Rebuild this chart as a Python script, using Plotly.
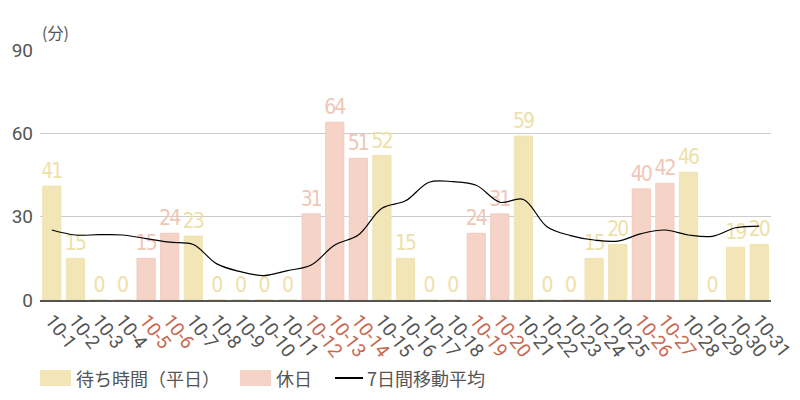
import plotly.graph_objects as go

# October daily wait times (minutes)
dates = [f"10-{d}" for d in range(1, 32)]
wait_minutes = [41, 15, 0, 0, 15, 24, 23, 0, 0, 0, 0, 31, 64, 51, 52, 15,
                0, 0, 24, 31, 59, 0, 0, 15, 20, 40, 42, 46, 0, 19, 20]
holidays = ["10-5", "10-6", "10-12", "10-13", "10-14", "10-19", "10-20", "10-26", "10-27"]
moving_avg = [25.2, 23.4, 23.5, 23.4, 22.1, 20.8, 20.0, 13.0, 10.2, 8.8, 10.6, 12.6,
              19.8, 23.4, 33.0, 35.7, 42.4, 42.6, 41.3, 35.2, 36.2, 26.4, 23.2, 21.6,
              21.2, 23.9, 25.2, 23.4, 22.9, 26.0, 26.6]

WEEKDAY = "#f2e6b9"
HOLIDAY = "#f5d3c7"
WEEKDAY_TXT = "#efe0aa"
HOLIDAY_TXT = "#f0c6b6"
GREY = "#555555"
RED = "#c8674f"
LABEL_FONT = "Liberation Sans Narrow, DejaVu Sans Condensed, Roboto"
# no condensed face is installed, so tighten the digits a little instead
LABEL_TMPL = "<span style='letter-spacing:-2px'>%{y}</span>"

weekday_y = [v if d not in holidays else None for d, v in zip(dates, wait_minutes)]
holiday_y = [v if d in holidays else None for d, v in zip(dates, wait_minutes)]

tick_text = [f"<span style='color:{RED}'>{d}</span>" if d in holidays else d for d in dates]

fig = go.Figure()

fig.add_trace(go.Bar(
    x=dates, y=weekday_y, name="待ち時間（平日）",
    marker=dict(color=WEEKDAY, line=dict(color="#efe2ae", width=1)),
    texttemplate=LABEL_TMPL, textposition="outside", cliponaxis=False, constraintext="none",
    textfont=dict(family=LABEL_FONT, size=21, color=WEEKDAY_TXT),
))
fig.add_trace(go.Bar(
    x=dates, y=holiday_y, name="休日",
    marker=dict(color=HOLIDAY, line=dict(color="#f2cbbd", width=1)),
    texttemplate=LABEL_TMPL, textposition="outside", cliponaxis=False, constraintext="none",
    textfont=dict(family=LABEL_FONT, size=21, color=HOLIDAY_TXT),
))
fig.add_trace(go.Scatter(
    x=dates, y=moving_avg, mode="lines", name="7日間移動平均",
    line=dict(color="black", width=1.2, shape="spline"),
))

fig.update_xaxes(
    type="category", tickmode="array", tickvals=dates, ticktext=tick_text,
    tickangle=52, tickfont=dict(family="Roboto", size=19, color=GREY),
    showline=True, linecolor=GREY, linewidth=1.5, ticks="", showgrid=False,
    automargin=False,
)
fig.update_yaxes(
    range=[0, 90], tickvals=[0, 30, 60, 90], showgrid=True, gridcolor="#cccccc",
    zeroline=False, tickfont=dict(family="Roboto", size=19, color=GREY), ticklen=0,
    ticklabelstandoff=6, automargin=False,
)

# custom legend drawn below the plot (plot area spans x 40..771 px)
plot_l, plot_w = 40, 731
def px(x):
    return (x - plot_l) / plot_w

leg_y = -0.312
legend_font = dict(family="Noto Sans CJK JP", size=18, color=GREY)
fig.add_shape(type="rect", xref="paper", yref="paper", x0=px(40), x1=px(71),
              y0=leg_y - 0.032, y1=leg_y + 0.032, fillcolor=WEEKDAY, line_width=0)
fig.add_annotation(xref="paper", yref="paper", x=px(74), y=leg_y, xanchor="left",
                   yanchor="middle", text="待ち時間（平日）", showarrow=False, font=legend_font)
fig.add_shape(type="rect", xref="paper", yref="paper", x0=px(240), x1=px(271),
              y0=leg_y - 0.032, y1=leg_y + 0.032, fillcolor=HOLIDAY, line_width=0)
fig.add_annotation(xref="paper", yref="paper", x=px(274), y=leg_y, xanchor="left",
                   yanchor="middle", text="休日", showarrow=False, font=legend_font)
fig.add_shape(type="line", xref="paper", yref="paper", x0=px(335), x1=px(363),
              y0=leg_y, y1=leg_y, line=dict(color="black", width=2))
fig.add_annotation(xref="paper", yref="paper", x=px(365), y=leg_y, xanchor="left",
                   yanchor="middle", text="7日間移動平均", showarrow=False, font=legend_font)

fig.add_annotation(xref="paper", yref="paper", x=0, y=1.072, xanchor="left", yanchor="middle",
                   text="(分)", showarrow=False,
                   font=dict(family="Noto Sans CJK JP", size=16, color=GREY))

# page body has an 8px offset, so margins are shifted to keep the plot at the same pixels
fig.update_layout(
    width=800, height=400,
    margin=dict(l=32, r=37, t=42, b=108),
    barmode="overlay", bargap=0.23,
    showlegend=False,
    plot_bgcolor="white", paper_bgcolor="white",
)

fig.write_html("out.html")
